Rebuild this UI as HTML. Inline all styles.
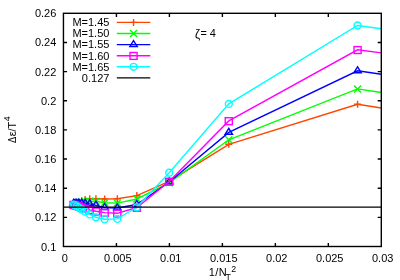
<!DOCTYPE html>
<html><head><meta charset="utf-8"><style>
html,body{margin:0;padding:0;background:#fff}
svg{display:block;will-change:transform}
text{font-family:"Liberation Sans",sans-serif;font-size:11px;fill:#000}
</style></head><body>
<svg width="400" height="280" viewBox="0 0 400 280">
<rect width="400" height="280" fill="#fff"/>
<path d="M116.43,246.5V242.90M116.43,13.3V16.90M169.40,246.5V242.90M169.40,13.3V16.90M222.38,246.5V242.90M222.38,13.3V16.90M275.35,246.5V242.90M275.35,13.3V16.90M328.32,246.5V242.90M328.32,13.3V16.90M63.45,217.35H67.05M381.3,217.35H377.70M63.45,188.20H67.05M381.3,188.20H377.70M63.45,159.05H67.05M381.3,159.05H377.70M63.45,129.90H67.05M381.3,129.90H377.70M63.45,100.75H67.05M381.3,100.75H377.70M63.45,71.60H67.05M381.3,71.60H377.70M63.45,42.45H67.05M381.3,42.45H377.70" stroke="#000" stroke-width="1.4" fill="none"/>
<g stroke-width="1.4">
<path d="M381.30,108.00L357.56,104.30L228.80,144.30L169.20,181.30L136.83,195.60L117.31,198.80L104.64,199.00L95.95,198.70L89.74,198.70L85.14,199.60L81.64,200.80" stroke="#ff4500" fill="none"/>
<path d="M354.06,104.30H361.06M357.56,100.80V107.80" stroke="#ff4500" fill="none"/>
<path d="M225.30,144.30H232.30M228.80,140.80V147.80" stroke="#ff4500" fill="none"/>
<path d="M165.70,181.30H172.70M169.20,177.80V184.80" stroke="#ff4500" fill="none"/>
<path d="M133.33,195.60H140.33M136.83,192.10V199.10" stroke="#ff4500" fill="none"/>
<path d="M113.81,198.80H120.81M117.31,195.30V202.30" stroke="#ff4500" fill="none"/>
<path d="M101.14,199.00H108.14M104.64,195.50V202.50" stroke="#ff4500" fill="none"/>
<path d="M92.45,198.70H99.45M95.95,195.20V202.20" stroke="#ff4500" fill="none"/>
<path d="M86.24,198.70H93.24M89.74,195.20V202.20" stroke="#ff4500" fill="none"/>
<path d="M81.64,199.60H88.64M85.14,196.10V203.10" stroke="#ff4500" fill="none"/>
<path d="M78.14,200.80H85.14M81.64,197.30V204.30" stroke="#ff4500" fill="none"/>
<path d="M381.30,92.50L357.56,88.90L228.80,139.80L169.20,182.80L136.83,199.00L117.31,203.10L104.64,202.70L95.95,201.30L89.74,201.20L85.14,201.50L81.64,202.00L78.92,202.60L76.76,203.20" stroke="#00ff00" fill="none"/>
<path d="M354.06,85.40L361.06,92.40M354.06,92.40L361.06,85.40" stroke="#00ff00" fill="none"/>
<path d="M225.30,136.30L232.30,143.30M225.30,143.30L232.30,136.30" stroke="#00ff00" fill="none"/>
<path d="M165.70,179.30L172.70,186.30M165.70,186.30L172.70,179.30" stroke="#00ff00" fill="none"/>
<path d="M133.33,195.50L140.33,202.50M133.33,202.50L140.33,195.50" stroke="#00ff00" fill="none"/>
<path d="M113.81,199.60L120.81,206.60M113.81,206.60L120.81,199.60" stroke="#00ff00" fill="none"/>
<path d="M101.14,199.20L108.14,206.20M101.14,206.20L108.14,199.20" stroke="#00ff00" fill="none"/>
<path d="M92.45,197.80L99.45,204.80M92.45,204.80L99.45,197.80" stroke="#00ff00" fill="none"/>
<path d="M86.24,197.70L93.24,204.70M86.24,204.70L93.24,197.70" stroke="#00ff00" fill="none"/>
<path d="M81.64,198.00L88.64,205.00M81.64,205.00L88.64,198.00" stroke="#00ff00" fill="none"/>
<path d="M78.14,198.50L85.14,205.50M78.14,205.50L85.14,198.50" stroke="#00ff00" fill="none"/>
<path d="M75.42,199.10L82.42,206.10M75.42,206.10L82.42,199.10" stroke="#00ff00" fill="none"/>
<path d="M73.26,199.70L80.26,206.70M73.26,206.70L80.26,199.70" stroke="#00ff00" fill="none"/>
<path d="M381.30,74.30L357.56,70.80L228.80,132.40L169.20,182.00L136.83,204.50L117.31,208.00L104.64,207.60L95.95,205.40L89.74,203.90L85.14,203.30L81.64,203.10L78.92,203.10L76.76,203.20L75.02,203.30L73.60,203.40" stroke="#0000ff" fill="none"/>
<path d="M357.56,66.80L361.26,72.70H353.86Z" stroke="#0000ff" fill="none"/>
<path d="M228.80,128.40L232.50,134.30H225.10Z" stroke="#0000ff" fill="none"/>
<path d="M169.20,178.00L172.90,183.90H165.50Z" stroke="#0000ff" fill="none"/>
<path d="M136.83,200.50L140.53,206.40H133.13Z" stroke="#0000ff" fill="none"/>
<path d="M117.31,204.00L121.01,209.90H113.61Z" stroke="#0000ff" fill="none"/>
<path d="M104.64,203.60L108.34,209.50H100.94Z" stroke="#0000ff" fill="none"/>
<path d="M95.95,201.40L99.65,207.30H92.25Z" stroke="#0000ff" fill="none"/>
<path d="M89.74,199.90L93.44,205.80H86.04Z" stroke="#0000ff" fill="none"/>
<path d="M85.14,199.30L88.84,205.20H81.44Z" stroke="#0000ff" fill="none"/>
<path d="M81.64,199.10L85.34,205.00H77.94Z" stroke="#0000ff" fill="none"/>
<path d="M78.92,199.10L82.62,205.00H75.22Z" stroke="#0000ff" fill="none"/>
<path d="M76.76,199.20L80.46,205.10H73.06Z" stroke="#0000ff" fill="none"/>
<path d="M75.02,199.30L78.72,205.20H71.32Z" stroke="#0000ff" fill="none"/>
<path d="M73.60,199.40L77.30,205.30H69.90Z" stroke="#0000ff" fill="none"/>
<path d="M381.30,52.90L357.56,49.80L228.80,120.90L169.20,181.50L136.83,207.50L117.31,213.30L104.64,212.60L95.95,211.30L89.74,210.00L85.14,208.50L81.64,207.30L78.92,206.30L76.76,205.60L75.02,205.00L73.60,204.60" stroke="#ff00ff" fill="none"/>
<rect x="354.01" y="46.60" width="7.1" height="6.9" stroke="#ff00ff" fill="none"/>
<rect x="225.25" y="117.70" width="7.1" height="6.9" stroke="#ff00ff" fill="none"/>
<rect x="165.65" y="178.30" width="7.1" height="6.9" stroke="#ff00ff" fill="none"/>
<rect x="133.28" y="204.30" width="7.1" height="6.9" stroke="#ff00ff" fill="none"/>
<rect x="113.76" y="210.10" width="7.1" height="6.9" stroke="#ff00ff" fill="none"/>
<rect x="101.09" y="209.40" width="7.1" height="6.9" stroke="#ff00ff" fill="none"/>
<rect x="92.40" y="208.10" width="7.1" height="6.9" stroke="#ff00ff" fill="none"/>
<rect x="86.19" y="206.80" width="7.1" height="6.9" stroke="#ff00ff" fill="none"/>
<rect x="81.59" y="205.30" width="7.1" height="6.9" stroke="#ff00ff" fill="none"/>
<rect x="78.09" y="204.10" width="7.1" height="6.9" stroke="#ff00ff" fill="none"/>
<rect x="75.37" y="203.10" width="7.1" height="6.9" stroke="#ff00ff" fill="none"/>
<rect x="73.21" y="202.40" width="7.1" height="6.9" stroke="#ff00ff" fill="none"/>
<rect x="71.47" y="201.80" width="7.1" height="6.9" stroke="#ff00ff" fill="none"/>
<rect x="70.05" y="201.40" width="7.1" height="6.9" stroke="#ff00ff" fill="none"/>
<path d="M381.30,28.75L357.56,25.50L228.80,103.90L169.20,172.70L136.83,207.30L117.31,218.90L104.64,219.20L95.95,217.30L89.74,214.40L85.14,211.60L81.64,209.50L78.92,207.60L76.76,206.20L75.02,205.20L73.60,204.60" stroke="#00ffff" fill="none"/>
<circle cx="357.56" cy="25.50" r="3.45" stroke="#00ffff" fill="none"/>
<circle cx="228.80" cy="103.90" r="3.45" stroke="#00ffff" fill="none"/>
<circle cx="169.20" cy="172.70" r="3.45" stroke="#00ffff" fill="none"/>
<circle cx="136.83" cy="207.30" r="3.45" stroke="#00ffff" fill="none"/>
<circle cx="117.31" cy="218.90" r="3.45" stroke="#00ffff" fill="none"/>
<circle cx="104.64" cy="219.20" r="3.45" stroke="#00ffff" fill="none"/>
<circle cx="95.95" cy="217.30" r="3.45" stroke="#00ffff" fill="none"/>
<circle cx="89.74" cy="214.40" r="3.45" stroke="#00ffff" fill="none"/>
<circle cx="85.14" cy="211.60" r="3.45" stroke="#00ffff" fill="none"/>
<circle cx="81.64" cy="209.50" r="3.45" stroke="#00ffff" fill="none"/>
<circle cx="78.92" cy="207.60" r="3.45" stroke="#00ffff" fill="none"/>
<circle cx="76.76" cy="206.20" r="3.45" stroke="#00ffff" fill="none"/>
<circle cx="75.02" cy="205.20" r="3.45" stroke="#00ffff" fill="none"/>
<circle cx="73.60" cy="204.60" r="3.45" stroke="#00ffff" fill="none"/>
</g>
<path d="M63.45,207.1H381.3" stroke="#000" stroke-width="1.4" fill="none"/>
<text x="109.4" y="26.40" text-anchor="end">M=1.45</text>
<path d="M116.8,22.40H150.3" stroke="#ff4500" stroke-width="1.4" fill="none"/>
<g stroke-width="1.4"><path d="M130.05,22.40H137.05M133.55,18.90V25.90" stroke="#ff4500" fill="none"/></g>
<text x="109.4" y="37.10" text-anchor="end">M=1.50</text>
<path d="M116.8,33.50H150.3" stroke="#00ff00" stroke-width="1.4" fill="none"/>
<g stroke-width="1.4"><path d="M130.05,30.00L137.05,37.00M130.05,37.00L137.05,30.00" stroke="#00ff00" fill="none"/></g>
<text x="109.4" y="48.30" text-anchor="end">M=1.55</text>
<path d="M116.8,44.60H150.3" stroke="#0000ff" stroke-width="1.4" fill="none"/>
<g stroke-width="1.4"><path d="M133.55,40.60L137.25,46.50H129.85Z" stroke="#0000ff" fill="none"/></g>
<text x="109.4" y="59.70" text-anchor="end">M=1.60</text>
<path d="M116.8,55.70H150.3" stroke="#ff00ff" stroke-width="1.4" fill="none"/>
<g stroke-width="1.4"><rect x="130.00" y="52.50" width="7.1" height="6.9" stroke="#ff00ff" fill="none"/></g>
<text x="109.4" y="70.50" text-anchor="end">M=1.65</text>
<path d="M116.8,66.80H150.3" stroke="#00ffff" stroke-width="1.4" fill="none"/>
<g stroke-width="1.4"><circle cx="133.55" cy="66.80" r="3.45" stroke="#00ffff" fill="none"/></g>
<text x="109.4" y="81.70" text-anchor="end">0.127</text>
<path d="M116.8,77.90H150.3" stroke="#000" stroke-width="1.4" fill="none"/>
<rect x="63.45" y="13.3" width="317.85" height="233.2" stroke="#000" stroke-width="1.4" fill="none"/>
<text x="64.85" y="262" text-anchor="middle">0</text>
<text x="117.83" y="262" text-anchor="middle">0.005</text>
<text x="170.80" y="262" text-anchor="middle">0.01</text>
<text x="223.78" y="262" text-anchor="middle">0.015</text>
<text x="276.75" y="262" text-anchor="middle">0.02</text>
<text x="329.72" y="262" text-anchor="middle">0.025</text>
<text x="382.70" y="262" text-anchor="middle">0.03</text>
<text x="56.3" y="250.50" text-anchor="end">0.1</text>
<text x="56.3" y="221.35" text-anchor="end">0.12</text>
<text x="56.3" y="192.20" text-anchor="end">0.14</text>
<text x="56.3" y="163.05" text-anchor="end">0.16</text>
<text x="56.3" y="133.90" text-anchor="end">0.18</text>
<text x="56.3" y="104.75" text-anchor="end">0.2</text>
<text x="56.3" y="75.60" text-anchor="end">0.22</text>
<text x="56.3" y="46.45" text-anchor="end">0.24</text>
<text x="56.3" y="17.30" text-anchor="end">0.26</text>
<text transform="translate(195,38.2) scale(1.05,1.12)">ζ</text><text x="200.4" y="37.2">= 4</text>
<text x="208.8 215.3 218.8" y="276.1">1/N</text><text x="225.6" y="279.8" style="font-size:8.8px">T</text><text x="231.2" y="271.6" style="font-size:8.8px">2</text>
<text transform="translate(15.8,142.6) rotate(-90)" x="6.3 11.0 14.1" y="0">ε/T</text><text transform="translate(15.8,142.9) rotate(-90) scale(0.85,0.97)">Δ</text>
<text transform="translate(10.4,121.2) rotate(-90)" style="font-size:8.8px">4</text>
</svg></body></html>
